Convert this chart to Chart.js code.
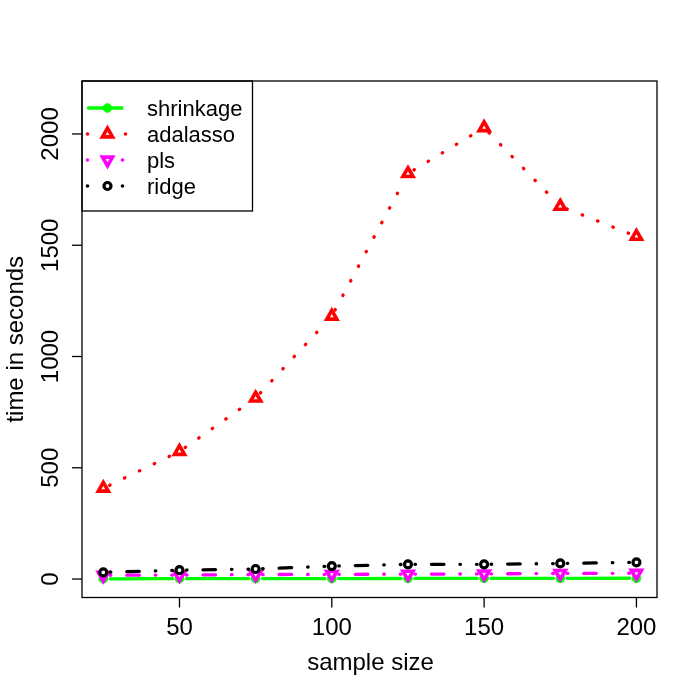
<!DOCTYPE html>
<html>
<head>
<meta charset="utf-8">
<script src="https://cdn.jsdelivr.net/npm/chart.js@4.4.1/dist/chart.umd.min.js"></script>
<style>
  html, body { margin: 0; padding: 0; background: #fff; }
  #chart { display: block; }
</style>
</head>
<body>
<canvas id="chart" width="700" height="700"></canvas>
<script>
// sample sizes (x axis)
const sampleSizes = [25, 50, 75, 100, 125, 150, 175, 200];

// run time in seconds for each method
const shrinkageTimes = [1, 1.5, 2, 2, 2.5, 3, 3, 3.5];
const adalassoTimes = [408, 573, 813, 1181, 1822, 2028, 1675, 1540];
const plsTimes = [17, 18, 20, 21, 22, 23, 25, 26];
const ridgeTimes = [30, 40, 45, 58, 66, 66, 70, 75];

const seriesNames = ['shrinkage', 'adalasso', 'pls', 'ridge'];
const xTicks = [50, 100, 150, 200];
const yTicks = [0, 500, 1000, 1500, 2000];

const FONT = '"Liberation Sans", Arial, Helvetica, sans-serif';
const GAP = 7; // R type="b" leaves a gap around each point

// R line types, scaled for lwd
const DOTTED = [0.5, 16];
const DOTDASH = [0.5, 16, 12.5, 16];

function toPoints(values) {
    return sampleSizes.map((x, i) => ({ x: x, y: values[i] }));
}

// build a dash array for one segment so the pattern restarts after the gap
function dashFor(pattern, len) {
    const usable = Math.max(len - 2 * GAP, 0.01);
    if (!pattern) return [usable, 2 * GAP + 1000];
    const out = [];
    let pos = 0, i = 0;
    while (pos < usable) {
        const d = Math.min(pattern[i % pattern.length], usable - pos);
        out.push(d);
        pos += d;
        i++;
    }
    if (out.length % 2 === 1) out.push(2 * GAP + 1000);
    else out[out.length - 1] += 2 * GAP + 1000;
    return out;
}

function segmentStyle(pattern) {
    return {
        borderDash: ctx => {
            const dx = ctx.p1.x - ctx.p0.x, dy = ctx.p1.y - ctx.p0.y;
            return dashFor(pattern, Math.sqrt(dx * dx + dy * dy));
        },
        // tiny alternating offset keeps each segment a separate path
        borderDashOffset: ctx => -GAP - (ctx.p0DataIndex % 2) * 0.001
    };
}

const seriesStyles = [
    { color: '#00ff00', pattern: null, pointStyle: 'circle', radius: 4.3, border: 1, fill: '#00ff00', rotation: 0 },
    { color: '#ff0000', pattern: DOTTED, pointStyle: 'triangle', radius: 5.8, border: 3.6, fill: '#ffffff', rotation: 0 },
    { color: '#ff00ff', pattern: DOTDASH, pointStyle: 'triangle', radius: 5.8, border: 3.6, fill: '#ffffff', rotation: 180 },
    { color: '#000000', pattern: DOTDASH, pointStyle: 'circle', radius: 3.5, border: 3.2, fill: '#ffffff', rotation: 0 }
];
const seriesValues = [shrinkageTimes, adalassoTimes, plsTimes, ridgeTimes];

const datasets = seriesNames.map((name, i) => {
    const s = seriesStyles[i];
    return {
        label: name,
        data: toPoints(seriesValues[i]),
        order: 4 - i,
        borderColor: s.color,
        borderWidth: 3.3,
        borderCapStyle: 'round',
        tension: 0,
        fill: false,
        segment: segmentStyle(s.pattern),
        pointStyle: s.pointStyle,
        pointRotation: s.rotation,
        pointRadius: s.radius,
        pointBorderWidth: s.border,
        pointBorderColor: s.color,
        pointBackgroundColor: s.fill
    };
});

// axes, box, titles and legend drawn R style
const rStylePlugin = {
    id: 'rStyle',
    afterDraw(chart) {
        const ctx = chart.ctx;
        const area = chart.chartArea;
        const xs = chart.scales.x, ys = chart.scales.y;
        ctx.save();
        ctx.strokeStyle = '#000';
        ctx.fillStyle = '#000';
        ctx.lineWidth = 1.3;
        ctx.strokeRect(area.left, area.top, area.right - area.left, area.bottom - area.top);

        ctx.font = '24px ' + FONT;
        // x ticks
        ctx.textAlign = 'center';
        ctx.textBaseline = 'alphabetic';
        xTicks.forEach(v => {
            const px = xs.getPixelForValue(v);
            ctx.beginPath();
            ctx.moveTo(px, area.bottom);
            ctx.lineTo(px, area.bottom + 10);
            ctx.stroke();
            ctx.fillText(String(v), px, 634.5);
        });
        // y ticks, labels parallel to the axis
        yTicks.forEach(v => {
            const py = ys.getPixelForValue(v);
            ctx.beginPath();
            ctx.moveTo(area.left, py);
            ctx.lineTo(area.left - 10, py);
            ctx.stroke();
            ctx.save();
            ctx.translate(57.5, py);
            ctx.rotate(-Math.PI / 2);
            ctx.fillText(String(v), 0, 0);
            ctx.restore();
        });
        // axis titles
        ctx.fillText('sample size', (area.left + area.right) / 2 + 1, 670);
        ctx.save();
        ctx.translate(23, (area.top + area.bottom) / 2);
        ctx.rotate(-Math.PI / 2);
        ctx.fillText('time in seconds', 0, 0);
        ctx.restore();

        // legend
        ctx.lineWidth = 1.3;
        ctx.strokeRect(area.left, area.top, 170.5, 130);
        ctx.font = '22px ' + FONT;
        ctx.textAlign = 'left';
        seriesNames.forEach((name, i) => {
            const s = seriesStyles[i];
            const cy = 108 + 26 * i;
            const cx = 107.5;
            ctx.strokeStyle = s.color;
            ctx.fillStyle = s.color;
            if (!s.pattern) {
                ctx.lineWidth = 3.3;
                ctx.lineCap = 'round';
                ctx.beginPath();
                ctx.moveTo(88.5, cy);
                ctx.lineTo(122, cy);
                ctx.stroke();
            } else {
                const right = i === 1 ? 125.5 : 122.5;
                [87.5, right].forEach(dx => {
                    ctx.beginPath();
                    ctx.arc(dx, cy, 1.8, 0, Math.PI * 2);
                    ctx.fill();
                });
            }
            ctx.fillStyle = s.fill;
            ctx.lineWidth = s.border;
            Chart.helpers.drawPoint(ctx, {
                pointStyle: s.pointStyle,
                rotation: s.rotation,
                radius: s.radius,
                borderWidth: s.border
            }, cx, cy);
            ctx.fillStyle = '#000';
            ctx.fillText(name, 147, cy + 7.5);
        });
        ctx.restore();
    }
};

new Chart(document.getElementById('chart'), {
    type: 'line',
    data: { datasets: datasets },
    options: {
        responsive: false,
        animation: false,
        devicePixelRatio: 1,
        events: [],
        layout: { padding: { left: 82, right: 43, top: 81, bottom: 102.5 } },
        plugins: {
            legend: { display: false },
            tooltip: { enabled: false }
        },
        scales: {
            x: { type: 'linear', min: 18, max: 206.75, display: false },
            y: { type: 'linear', min: -83, max: 2238, display: false }
        }
    },
    plugins: [rStylePlugin]
});
</script>
</body>
</html>
